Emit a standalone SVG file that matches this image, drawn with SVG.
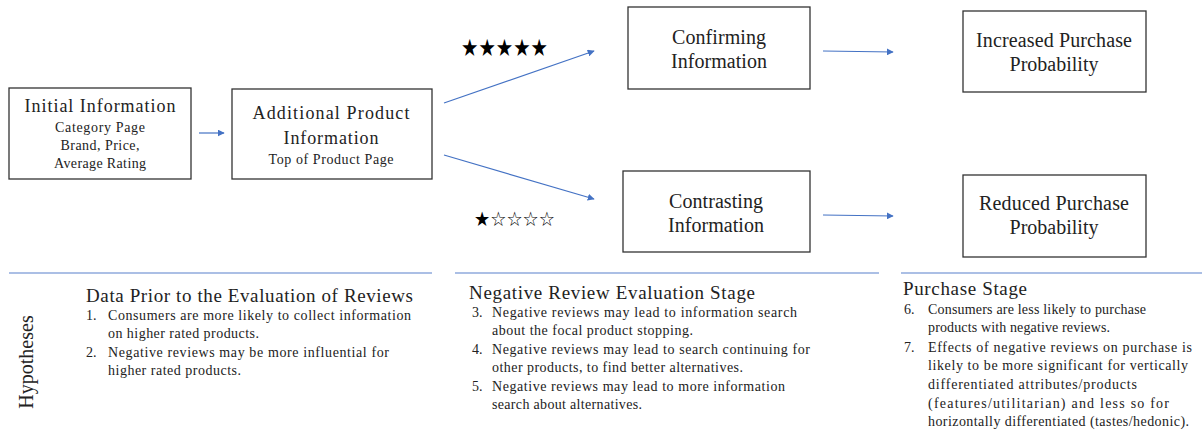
<svg xmlns="http://www.w3.org/2000/svg" width="1202" height="435" viewBox="0 0 1202 435">
  <style>
    .serif { font-family: 'Liberation Serif', 'DejaVu Serif', serif; fill: #222; }
    .box { fill: #fff; stroke: #333; stroke-width: 1.3; }
    .mid { text-anchor: middle; }
    .t20 { font-size: 20px; }
    .t18 { font-size: 18px; }
    .t14 { font-size: 14px; }
    .head { font-size: 19px; }
    .item { font-size: 14px; }
    .conn { stroke: #4472C4; stroke-width: 1.2; fill: none; marker-end: url(#arrow); }
    .sep { stroke: #8FAADC; stroke-width: 1.5; }
    .star { font-family: 'DejaVu Sans', sans-serif; fill: #000; }
  </style>
  <defs>
    <marker id="arrow" viewBox="0 0 10 10" refX="9" refY="5" markerWidth="7" markerHeight="7" markerUnits="userSpaceOnUse" orient="auto">
      <path d="M0,0 L10,5 L0,10 z" fill="#4472C4"/>
    </marker>
  </defs>

  <rect width="1202" height="435" fill="#fff"/>

  <g class="serif" lengthAdjust="spacing">
  <!-- flow nodes -->
  <g id="initial">
    <rect class="box" x="9" y="88" width="182" height="91"/>
    <text class="t18 mid" x="100" y="112" textLength="151">Initial Information</text>
    <text class="t14 mid" x="100" y="132" textLength="90">Category Page</text>
    <text class="t14 mid" x="100" y="150" textLength="79">Brand, Price,</text>
    <text class="t14 mid" x="100" y="168" textLength="92">Average Rating</text>
  </g>
  <g id="additional">
    <rect class="box" x="232" y="89" width="200" height="90"/>
    <text class="t18 mid" x="331" y="119" textLength="157">Additional Product</text>
    <text class="t18 mid" x="331" y="144" textLength="95">Information</text>
    <text class="t14 mid" x="331" y="164" textLength="125">Top of Product Page</text>
  </g>
  <g id="confirming">
    <rect class="box" x="628" y="7" width="182" height="82"/>
    <text class="t20 mid" x="719" y="44" textLength="94">Confirming</text>
    <text class="t20 mid" x="719" y="68" textLength="96">Information</text>
  </g>
  <g id="contrasting">
    <rect class="box" x="623" y="171" width="187" height="81"/>
    <text class="t20 mid" x="716" y="208" textLength="94">Contrasting</text>
    <text class="t20 mid" x="716" y="232" textLength="96">Information</text>
  </g>
  <g id="increased">
    <rect class="box" x="963" y="11" width="183" height="81"/>
    <text class="t20 mid" x="1054" y="47" textLength="156">Increased Purchase</text>
    <text class="t20 mid" x="1054" y="71" textLength="89">Probability</text>
  </g>
  <g id="reduced">
    <rect class="box" x="963" y="175" width="183" height="82"/>
    <text class="t20 mid" x="1054" y="210" textLength="150">Reduced Purchase</text>
    <text class="t20 mid" x="1054" y="234" textLength="89">Probability</text>
  </g>

  <!-- rating stars -->
  <g id="stars-high">
    <text class="star" x="461" y="56" font-size="24" textLength="87" lengthAdjust="spacingAndGlyphs">★★★★★</text>
  </g>
  <g id="stars-low">
    <text class="star" x="474" y="226" font-size="20" textLength="81" lengthAdjust="spacingAndGlyphs">★☆☆☆☆</text>
  </g>

  <!-- connectors -->
  <g id="connectors">
    <line class="conn" x1="199" y1="133" x2="224" y2="133"/>
    <line class="conn" x1="444" y1="103" x2="594" y2="51"/>
    <line class="conn" x1="444" y1="155" x2="594" y2="199"/>
    <line class="conn" x1="823" y1="51" x2="893" y2="52"/>
    <line class="conn" x1="823" y1="215" x2="893" y2="216"/>
  </g>

  <!-- stage separators -->
  <g id="separators">
    <line class="sep" x1="9" y1="273" x2="432" y2="273"/>
    <line class="sep" x1="455" y1="273" x2="879" y2="273"/>
    <line class="sep" x1="901" y1="273" x2="1202" y2="273"/>
  </g>

  <!-- hypotheses -->
  <g id="hypotheses-label">
    <text font-size="20" transform="translate(33,362) rotate(-90)" text-anchor="middle">Hypotheses</text>
  </g>

  <g id="stage-prior">
    <text class="head" x="86" y="302" textLength="327">Data Prior to the Evaluation of Reviews</text>
    <text class="item" x="86" y="320">1.</text>
    <text class="item" x="108" y="320" textLength="303">Consumers are more likely to collect information</text>
    <text class="item" x="108" y="338" textLength="151">on higher rated products.</text>
    <text class="item" x="86" y="357">2.</text>
    <text class="item" x="108" y="357" textLength="281">Negative reviews may be more influential for</text>
    <text class="item" x="108" y="375" textLength="133">higher rated products.</text>
  </g>

  <g id="stage-negative">
    <text class="head" x="469" y="299" textLength="286">Negative Review Evaluation Stage</text>
    <text class="item" x="472" y="317">3.</text>
    <text class="item" x="492" y="317" textLength="305">Negative reviews may lead to information search</text>
    <text class="item" x="492" y="335" textLength="201">about the focal product stopping.</text>
    <text class="item" x="472" y="354">4.</text>
    <text class="item" x="492" y="354" textLength="318">Negative reviews may lead to search continuing for</text>
    <text class="item" x="492" y="372" textLength="251">other products, to find better alternatives.</text>
    <text class="item" x="472" y="391">5.</text>
    <text class="item" x="492" y="391" textLength="293">Negative reviews may lead to more information</text>
    <text class="item" x="492" y="409" textLength="150">search about alternatives.</text>
  </g>

  <g id="stage-purchase">
    <text class="head" x="903" y="295" textLength="124">Purchase Stage</text>
    <text class="item" x="904" y="314">6.</text>
    <text class="item" x="928" y="314" textLength="218">Consumers are less likely to purchase</text>
    <text class="item" x="928" y="332" textLength="182">products with negative reviews.</text>
    <text class="item" x="904" y="352">7.</text>
    <text class="item" x="928" y="352" textLength="264">Effects of negative reviews on purchase is</text>
    <text class="item" x="928" y="370" textLength="260">likely to be more significant for vertically</text>
    <text class="item" x="928" y="389" textLength="209">differentiated attributes/products</text>
    <text class="item" x="928" y="408" textLength="241">(features/utilitarian) and less so for</text>
    <text class="item" x="928" y="426" textLength="261">horizontally differentiated (tastes/hedonic).</text>
  </g>
  </g>
</svg>
